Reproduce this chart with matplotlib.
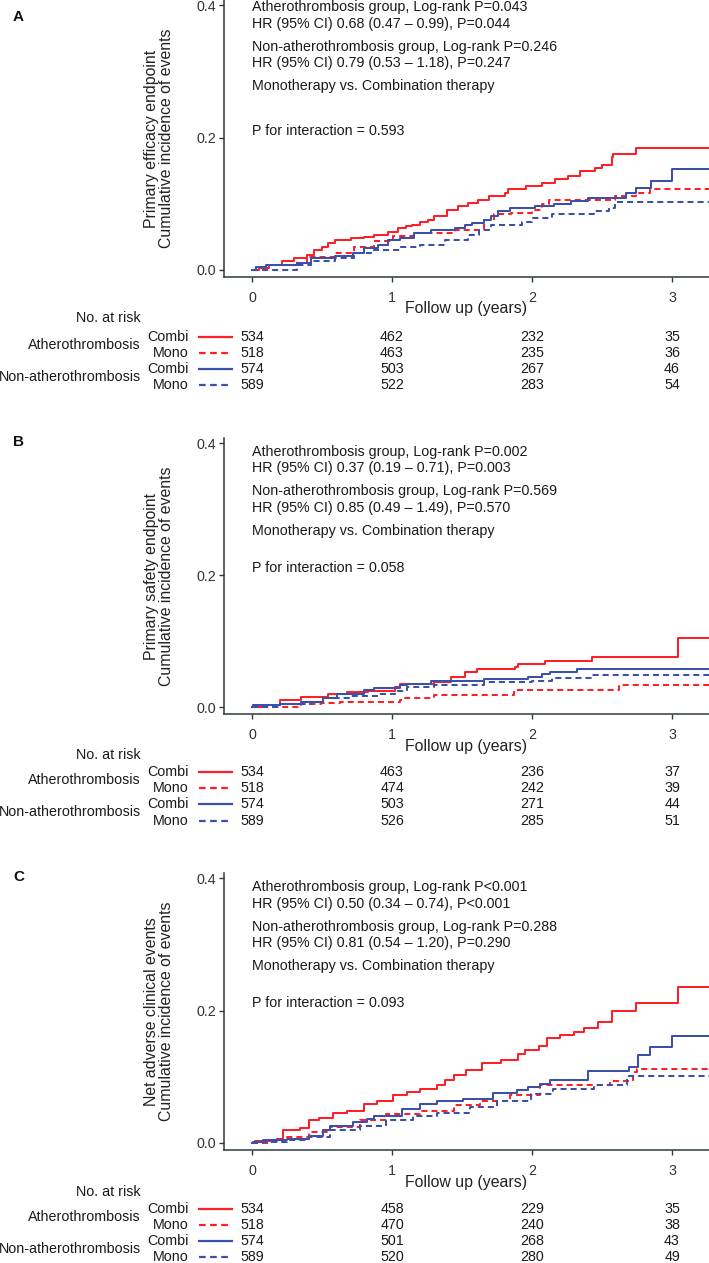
import matplotlib
matplotlib.use("Agg")
import matplotlib.pyplot as plt
from matplotlib.transforms import blended_transform_factory
from matplotlib.lines import Line2D

plt.rcParams['font.family'] = ['Liberation Sans', 'DejaVu Sans']

# ---------------- data ----------------
x_ticks = [0, 1, 2, 3]

# Panel A : primary efficacy endpoint
a_ath_combi_t = [0, 0.05, 0.12, 0.215, 0.30, 0.39, 0.44, 0.50, 0.54, 0.59, 0.71, 0.80, 0.87, 0.97, 1.04, 1.10, 1.14, 1.20,
                 1.26, 1.30, 1.39, 1.47, 1.54, 1.616, 1.69, 1.81, 1.83, 1.96, 2.07, 2.165, 2.26, 2.34, 2.45, 2.50, 2.57, 2.58, 2.74]
a_ath_combi_y = [0, 0.003, 0.008, 0.013, 0.018, 0.023, 0.030, 0.035, 0.040, 0.046, 0.048, 0.050, 0.053, 0.058, 0.063, 0.066,
                 0.068, 0.072, 0.076, 0.081, 0.091, 0.096, 0.101, 0.106, 0.111, 0.116, 0.122, 0.127, 0.132, 0.137, 0.142, 0.149,
                 0.154, 0.159, 0.170, 0.175, 0.184]
a_ath_mono_t = [0, 0.10, 0.32, 0.39, 0.59, 0.73, 0.87, 1.01, 1.16, 1.45, 1.66, 1.73, 1.85, 2.00, 2.07, 2.12, 2.59, 2.74, 2.84]
a_ath_mono_y = [0, 0.008, 0.010, 0.020, 0.025, 0.035, 0.043, 0.051, 0.056, 0.061, 0.076, 0.084, 0.086, 0.091, 0.099, 0.106,
                0.111, 0.116, 0.122]
a_non_combi_t = [0, 0.03, 0.10, 0.32, 0.42, 0.59, 0.72, 0.80, 0.90, 0.97, 1.06, 1.16, 1.28, 1.45, 1.52, 1.57, 1.66, 1.71,
                 1.76, 1.84, 2.02, 2.16, 2.28, 2.40, 2.67, 2.74, 2.85, 3.00]
a_non_combi_y = [0, 0.004, 0.008, 0.010, 0.018, 0.021, 0.025, 0.033, 0.038, 0.046, 0.048, 0.056, 0.061, 0.063, 0.068, 0.071,
                 0.076, 0.081, 0.089, 0.093, 0.096, 0.099, 0.104, 0.109, 0.116, 0.124, 0.134, 0.152]
a_non_mono_t = [0, 0.32, 0.42, 0.59, 0.73, 0.87, 1.06, 1.20, 1.38, 1.54, 1.62, 1.71, 1.93, 2.00, 2.14, 2.45, 2.55, 2.59]
a_non_mono_y = [0, 0.008, 0.013, 0.018, 0.025, 0.030, 0.035, 0.038, 0.046, 0.053, 0.060, 0.068, 0.073, 0.078, 0.084, 0.089,
                0.094, 0.103]

# Panel B : primary safety endpoint
b_ath_combi_t = [0, 0.11, 0.20, 0.35, 0.54, 0.68, 0.83, 1.02, 1.06, 1.30, 1.42, 1.52, 1.61, 1.88, 1.90, 2.09, 2.43, 3.04]
b_ath_combi_y = [0, 0.003, 0.010, 0.015, 0.020, 0.023, 0.025, 0.030, 0.035, 0.038, 0.045, 0.053, 0.058, 0.060, 0.065, 0.070,
                 0.076, 0.104]
b_ath_mono_t = [0, 0.35, 0.49, 0.63, 1.06, 1.09, 1.30, 1.87, 2.62]
b_ath_mono_y = [0, 0.004, 0.006, 0.008, 0.010, 0.014, 0.018, 0.026, 0.034]
b_non_combi_t = [0, 0.01, 0.20, 0.35, 0.51, 0.61, 0.80, 0.87, 1.06, 1.11, 1.28, 1.66, 1.97, 2.07, 2.13, 2.32]
b_non_combi_y = [0, 0.003, 0.005, 0.008, 0.013, 0.020, 0.026, 0.029, 0.033, 0.035, 0.039, 0.042, 0.045, 0.050, 0.053, 0.058]
b_non_mono_t = [0, 0.20, 0.42, 0.51, 0.71, 0.90, 1.02, 1.11, 1.30, 1.66, 2.00, 2.14, 2.43]
b_non_mono_y = [0, 0.005, 0.008, 0.013, 0.016, 0.020, 0.025, 0.030, 0.033, 0.038, 0.040, 0.044, 0.049]

# Panel C : net adverse clinical events
c_ath_combi_t = [0, 0.02, 0.18, 0.22, 0.34, 0.41, 0.48, 0.58, 0.68, 0.80, 0.89, 1.01, 1.11, 1.20, 1.32, 1.38, 1.44, 1.53,
                 1.64, 1.78, 1.90, 1.95, 2.05, 2.11, 2.20, 2.30, 2.37, 2.47, 2.57, 2.74, 3.04]
c_ath_combi_y = [0, 0.003, 0.006, 0.019, 0.023, 0.034, 0.038, 0.045, 0.049, 0.059, 0.064, 0.072, 0.077, 0.082, 0.088, 0.095,
                 0.103, 0.110, 0.120, 0.125, 0.135, 0.141, 0.146, 0.158, 0.163, 0.168, 0.173, 0.183, 0.200, 0.211, 0.235]
c_ath_mono_t = [0, 0.12, 0.15, 0.25, 0.41, 0.56, 0.77, 0.96, 1.20, 1.44, 1.63, 1.84, 2.06, 2.56, 2.72, 2.75]
c_ath_mono_y = [0, 0.002, 0.004, 0.009, 0.016, 0.024, 0.034, 0.043, 0.049, 0.057, 0.064, 0.072, 0.087, 0.094, 0.107, 0.112]
c_non_combi_t = [0, 0.01, 0.08, 0.25, 0.41, 0.51, 0.56, 0.72, 0.82, 0.87, 1.07, 1.20, 1.32, 1.51, 1.72, 1.89, 1.97, 2.06,
                 2.13, 2.40, 2.69, 2.76, 2.84, 3.00]
c_non_combi_y = [0, 0.002, 0.005, 0.006, 0.011, 0.019, 0.026, 0.031, 0.036, 0.041, 0.051, 0.059, 0.064, 0.066, 0.076, 0.080,
                 0.085, 0.089, 0.095, 0.108, 0.115, 0.133, 0.145, 0.162]
c_non_mono_t = [0, 0.08, 0.25, 0.41, 0.56, 0.77, 0.96, 1.15, 1.32, 1.56, 1.75, 1.99, 2.15, 2.44, 2.68]
c_non_mono_y = [0, 0.001, 0.004, 0.009, 0.019, 0.026, 0.034, 0.041, 0.046, 0.054, 0.064, 0.074, 0.082, 0.087, 0.101]

# numbers at risk (at 0, 1, 2, 3 years)
a_risk = [[534, 462, 232, 35], [518, 463, 235, 36], [574, 503, 267, 46], [589, 522, 283, 54]]
b_risk = [[534, 463, 236, 37], [518, 474, 242, 39], [574, 503, 271, 44], [589, 526, 285, 51]]
c_risk = [[534, 458, 229, 35], [518, 470, 240, 38], [574, 501, 268, 43], [589, 520, 280, 49]]

risk_arms = ["Combi", "Mono", "Combi", "Mono"]
risk_groups = ["Atherothrombosis", "Non-atherothrombosis"]

a_notes = ["Atherothrombosis group, Log-rank P=0.043", "HR (95% CI) 0.68 (0.47 \u2013 0.99), P=0.044",
           "Non-atherothrombosis group, Log-rank P=0.246", "HR (95% CI) 0.79 (0.53 \u2013 1.18), P=0.247",
           "Monotherapy vs. Combination therapy", "P for interaction = 0.593"]
b_notes = ["Atherothrombosis group, Log-rank P=0.002", "HR (95% CI) 0.37 (0.19 \u2013 0.71), P=0.003",
           "Non-atherothrombosis group, Log-rank P=0.569", "HR (95% CI) 0.85 (0.49 \u2013 1.49), P=0.570",
           "Monotherapy vs. Combination therapy", "P for interaction = 0.058"]
c_notes = ["Atherothrombosis group, Log-rank P<0.001", "HR (95% CI) 0.50 (0.34 \u2013 0.74), P<0.001",
           "Non-atherothrombosis group, Log-rank P=0.288", "HR (95% CI) 0.81 (0.54 \u2013 1.20), P=0.290",
           "Monotherapy vs. Combination therapy", "P for interaction = 0.093"]

y_titles = ["Primary efficacy endpoint", "Primary safety endpoint", "Net adverse clinical events"]
panel_letters = ["A", "B", "C"]

# ---------------- style / layout ----------------
W, H = 709, 1263
RED = '#FF1F26'
BLUE = '#3A50AA'
AX_COL = '#2E3A3A'
TXT = '#1A1A1A'
FS = 10.3
DASH = (0, (3.0, 2.0))
X_END = 3.4

fig = plt.figure(figsize=(W / 100, H / 100), dpi=100)


def fx(px):
    return px / W


def fy(px):
    return 1 - px / H


panels = [
    dict(top=0, bottom=277, notes=a_notes, note_y=[0.397, 0.371, 0.337, 0.312, 0.278, 0.210],
         series=[(a_ath_combi_t, a_ath_combi_y), (a_ath_mono_t, a_ath_mono_y),
                 (a_non_combi_t, a_non_combi_y), (a_non_mono_t, a_non_mono_y)],
         risk=a_risk, no_y=318, rows=[337, 353, 369, 385], letter_y=17),
    dict(top=438, bottom=714, notes=b_notes, note_y=[0.386, 0.362, 0.327, 0.302, 0.267, 0.211],
         series=[(b_ath_combi_t, b_ath_combi_y), (b_ath_mono_t, b_ath_mono_y),
                 (b_non_combi_t, b_non_combi_y), (b_non_mono_t, b_non_mono_y)],
         risk=b_risk, no_y=755, rows=[772, 788, 804, 821], letter_y=442),
    dict(top=873, bottom=1150, notes=c_notes, note_y=[0.386, 0.361, 0.326, 0.302, 0.267, 0.211],
         series=[(c_ath_combi_t, c_ath_combi_y), (c_ath_mono_t, c_ath_mono_y),
                 (c_non_combi_t, c_non_combi_y), (c_non_mono_t, c_non_mono_y)],
         risk=c_risk, no_y=1192, rows=[1209, 1225, 1241, 1257], letter_y=877),
]

styles = [(RED, '-'), (RED, DASH), (BLUE, '-'), (BLUE, DASH)]
LEFT, RIGHT = 224, 709

for i, p in enumerate(panels):
    h = p['bottom'] - p['top']
    ax = fig.add_axes([fx(LEFT), fy(p['bottom']), (RIGHT - LEFT) / W, h / H])
    ax.set_xlim(-0.2, 3.264)
    ax.set_ylim(-0.0106, 0.4076)
    for (t, y), (c, ls) in zip(p['series'], styles):
        ax.step(list(t) + [X_END], list(y) + [y[-1]], where='post', color=c, linestyle=ls, lw=1.45,
                clip_on=True)
    for s in ['top', 'right']:
        ax.spines[s].set_visible(False)
    for s in ['left', 'bottom']:
        ax.spines[s].set_color(AX_COL)
        ax.spines[s].set_linewidth(1.1)
    ax.set_xticks(x_ticks)
    ax.set_yticks([0.0, 0.2, 0.4])
    ax.set_yticklabels(["0.0", "0.2", "0.4"])
    ax.tick_params(axis='both', colors=AX_COL, labelcolor='#333333', labelsize=FS, length=3.5, width=1.0)
    ax.tick_params(axis='x', pad=6.5)
    ax.tick_params(axis='y', pad=2)
    ax.set_xlabel("Follow up (years)", fontsize=11.4, color='#222222')
    ax.xaxis.set_label_coords(0.5, -32 / h)
    ax.xaxis.label.set_va('center')
    ax.set_ylabel(y_titles[i] + "\nCumulative incidence of events", fontsize=11.4, color='#222222',
                  multialignment='center', linespacing=1.0)
    ax.yaxis.set_label_coords((159 - LEFT) / (RIGHT - LEFT), 0.5)
    ax.yaxis.label.set_va('center')

    for txt, yy in zip(p['notes'], p['note_y']):
        ax.text(0, yy, txt, ha='left', va='center', fontsize=FS, color=TXT)

    fig.text(fx(13), fy(p['letter_y']), panel_letters[i], fontsize=11, fontweight='bold', ha='left', va='center',
             color='#111111')

    # number at risk table
    tr = blended_transform_factory(ax.transData, fig.transFigure)
    fig.text(fx(141), fy(p['no_y']), "No. at risk", ha='right', va='center', fontsize=FS, color=TXT)
    for r, (row_y, arm, counts, (c, ls)) in enumerate(zip(p['rows'], risk_arms, p['risk'], styles)):
        fig.text(fx(189), fy(row_y), arm, ha='right', va='center', fontsize=FS, color=TXT)
        fig.add_artist(Line2D([fx(199), fx(232)], [fy(row_y), fy(row_y)], color=c, linestyle=ls, lw=1.6,
                              transform=fig.transFigure))
        for xv, n in zip(x_ticks, counts):
            fig.text(xv, fy(row_y), str(n), transform=tr, ha='center', va='center', fontsize=FS, color=TXT)
    for g, grp in enumerate(risk_groups):
        gy = (p['rows'][2 * g] + p['rows'][2 * g + 1]) / 2
        fig.text(fx(141), fy(gy), grp, ha='right', va='center', fontsize=FS, color=TXT)

fig.savefig("out.png", dpi=100)
